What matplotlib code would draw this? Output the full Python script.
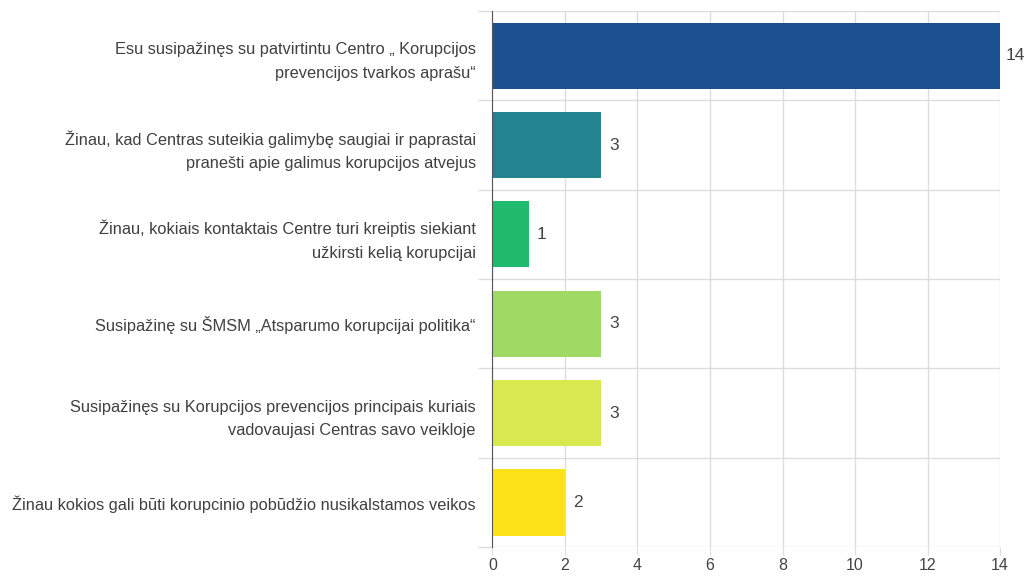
import matplotlib.pyplot as plt
import numpy as np

plt.rcParams['font.family'] = ['Liberation Sans', 'DejaVu Sans']

labels = [
    'Esu susipažinęs su patvirtintu Centro „ Korupcijos\nprevencijos tvarkos aprašu“',
    'Žinau, kad Centras suteikia galimybę saugiai ir paprastai\npranešti apie galimus korupcijos atvejus',
    'Žinau, kokiais kontaktais Centre turi kreiptis siekiant\nužkirsti kelią korupcijai',
    'Susipažinę su ŠMSM „Atsparumo korupcijai politika“',
    'Susipažinęs su Korupcijos prevencijos principais kuriais\nvadovaujasi Centras savo veikloje',
    'Žinau kokios gali būti korupcinio pobūdžio nusikalstamos veikos',
]
values = [14, 3, 1, 3, 3, 2]
colors = ['#1b5191', '#23838f', '#1fba6b', '#a0d964', '#d9e84e', '#fde21a']
xticks = [0, 2, 4, 6, 8, 10, 12, 14]

fig = plt.figure(figsize=(10.3, 5.76), dpi=100)
ax = fig.add_axes([0.478, 0.05, 0.493, 0.931])

y = np.arange(len(labels))
ax.barh(y, values, height=0.74, color=colors, zorder=2)
for yi, v in zip(y, values):
    ax.annotate(str(v), (v, yi), xytext=(6 if v < 10 else 4, 0), textcoords='offset points',
                va='center', ha='left', fontsize=12.5, color='#444444')

ax.set_ylim(len(labels) - 0.5, -0.5)
ax.set_xlim(0, 14)
ax.set_xticks(xticks)
ax.set_yticks(y)
ax.set_yticklabels(labels, fontsize=11.8, color='#404040', linespacing=1.7)
ax.set_yticks(np.arange(len(labels) + 1) - 0.5, minor=True)

ax.tick_params(axis='y', which='major', length=0, pad=12)
ax.tick_params(axis='y', which='minor', length=10, color='#dddddd', width=1)
ax.tick_params(axis='x', length=6, color='#dddddd', labelsize=11.5, labelcolor='#444444', pad=2)

ax.grid(axis='x', color='#dddddd', linewidth=1, zorder=0)
ax.grid(axis='y', which='minor', color='#dddddd', linewidth=1, zorder=0)

for s in ['top', 'right', 'bottom']:
    ax.spines[s].set_visible(False)
ax.spines['left'].set_color('#555555')
ax.spines['left'].set_zorder(3)

fig.savefig('out.png', dpi=100)
